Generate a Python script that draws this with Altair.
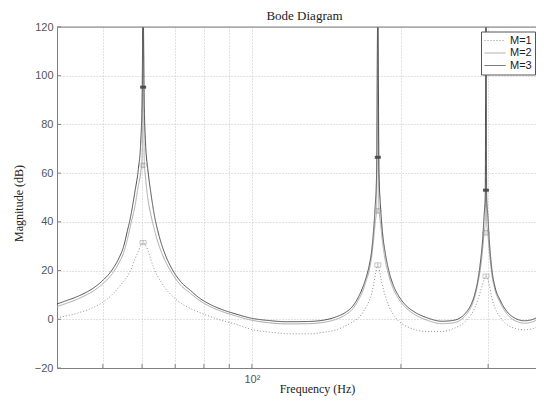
import altair as alt
import pandas as pd

# ---------------- data ----------------
SERIES = ["M=1", "M=2", "M=3"]

# shared frequency grid (Hz) for the two solid curves
F_SOLID = [40.4, 42, 44, 46, 48, 50, 52, 54, 55, 56, 57, 58, 59, 59.6, 60, 60.3, 60.6, 61, 61.6,
           62.5, 63.5, 65, 67, 69.5, 72, 75, 78, 82, 87, 92, 100, 108, 118, 130, 140, 148, 155,
           160, 164, 167, 170, 172.5, 174.5, 176, 177.5, 178.6, 179.6, 180.6, 181.8, 183.5, 186,
           189, 193, 198, 204, 213, 226, 242, 254, 263, 270, 277, 282.5, 286.5, 290, 292.5, 294.5,
           296, 297, 298, 299.5, 302, 305.5, 310, 317, 328, 341, 355, 370, 380, 389.5]

M3_DB = [6.3, 7.5, 9, 10.8, 13, 16, 19.8, 25.5, 29.5, 36, 43, 52, 62, 72, 90, 130, 90, 72, 62,
         52, 43, 34, 26, 19.5, 15.2, 12, 9, 6.3, 4, 2.4, 0.4, -0.5, -1, -0.9, -0.3, 1, 3,
         5.5, 9, 12.5, 17, 22, 28, 36, 47, 60, 130, 60, 47, 36, 27,
         20, 14, 9.5, 6, 3, 0.6, -0.8, -0.5, 0.5, 2.5, 6, 11, 17, 25, 33, 43,
         50, 130, 50, 43, 31, 20, 13, 8, 3, 0.3, -0.6, 0, 1.5, 3.5]

M2_DB = [5.2, 6.4, 7.9, 9.7, 11.8, 14.6, 18.2, 23.5, 27, 32.5, 39.5, 46, 55, 60, 66, 130, 66, 58, 50,
         43, 37, 30, 23.5, 17.8, 13.8, 10.8, 8, 5.4, 3.2, 1.6, -0.4, -1.4, -1.9, -1.8, -1.2, 0, 2,
         4.4, 7.8, 11, 15.5, 20, 25.5, 32, 40, 45, 130, 45, 40, 32, 24,
         18, 12.5, 8.3, 5, 2, -0.4, -1.8, -1.5, -0.5, 1.5, 5, 9.8, 15.5, 22, 29, 35.5,
         40, 130, 40, 35.5, 27, 18, 11.8, 7, 2, -0.7, -1.6, -1, 0.5, 2.5]

F_M1 = [40.4, 42, 44, 46, 48, 50, 52, 54, 55, 56, 57, 58, 59, 59.6, 60.3, 61, 61.6, 62.5, 63.5,
        65, 67, 69.5, 72, 75, 78, 82, 87, 92, 100, 108, 118, 130, 140, 148, 155, 160, 164, 167,
        170, 172.5, 174.5, 176, 177.5, 178.6, 179.6, 180.6, 181.8, 183.5, 186, 189, 193, 198,
        204, 213, 226, 242, 254, 263, 270, 277, 282.5, 286.5, 290, 292.5, 294.5, 297, 299.5,
        302, 305.5, 310, 317, 328, 341, 355, 370, 380, 389.5]
M1_DB = [0.6, 1.3, 2.3, 3.5, 5, 7, 9.8, 13.5, 15.5, 17.5, 20.5, 24.5, 28, 30.3, 31.5, 30.3, 28.5, 24.5, 20.5,
         16.5, 12.5, 9, 6.5, 4.5, 3, 1.3, -0.5, -1.8, -4.2, -5.2, -5.9, -6, -5.3, -4.3, -2.6, -1, 0.5, 2.5,
         5, 7.5, 10.5, 14, 18, 21, 22.3, 21, 18, 14, 9.5, 5.5, 2, -0.8,
         -2.6, -4.2, -5, -5, -4, -2.5, -0.8, 1.8, 5, 8.5, 12, 14.5, 16.5, 17.7, 16.5,
         13.5, 8.5, 4.5, 1, -2.3, -3.8, -4.3, -3.8, -2.7, -1.3]

# peak-response markers
PEAK_F = [60.3, 179.6, 297]
PEAK_M1 = [31.5, 22.3, 17.7]
PEAK_M2 = [63.2, 44.5, 35.5]
PEAK_M3 = [95.3, 66.5, 53]

X_GRID = [50, 60, 70, 80, 90, 100, 200, 300]
Y_TICKS = [-20, 0, 20, 40, 60, 80, 100, 120]
X_DOMAIN = [40.4, 374.8]

COLORS = ["#8f8f8f", "#a9a9a9", "#4f4f4f"]
DASHES = [[1, 2], [1, 0], [1, 0]]

# ---------------- tables ----------------
df = pd.concat([
    pd.DataFrame({"freq": F_M1, "db": M1_DB, "series": "M=1"}),
    pd.DataFrame({"freq": F_SOLID, "db": M2_DB, "series": "M=2"}),
    pd.DataFrame({"freq": F_SOLID, "db": M3_DB, "series": "M=3"}),
], ignore_index=True)

peaks1 = pd.DataFrame({"freq": PEAK_F, "db": PEAK_M1})
peaks2 = pd.DataFrame({"freq": PEAK_F, "db": PEAK_M2})
peaks3 = pd.DataFrame({"freq": PEAK_F, "db": PEAK_M3})
xt = pd.DataFrame({"freq": X_GRID})
yt = pd.DataFrame({"db": Y_TICKS})

W, H = 479, 341
AXIS_GREY = "#808080"

legend = alt.Legend(
    title=None, orient="none", legendX=424, legendY=4.5,
    symbolType="stroke", symbolSize=441, symbolStrokeWidth=1,
    clipHeight=12, rowPadding=0.5, padding=3, labelOffset=4,
    labelFont="Liberation Sans", labelFontSize=11, labelColor="#222",
    strokeColor="#555", fillColor="white", cornerRadius=0,
)

x_enc = alt.X(
    "freq:Q",
    scale=alt.Scale(type="log", domain=X_DOMAIN, nice=False),
    axis=alt.Axis(
        values=X_GRID, labelExpr="datum.value == 100 ? '10²' : ''",
        grid=True, gridDash=[1, 2], gridColor="#c4c4c4", ticks=False,
        domainColor=AXIS_GREY, labelFont="Liberation Sans", labelFontSize=11,
        labelColor="#555", labelPadding=5, labelOverlap=False, labelFlush=False,
        title="Frequency (Hz)", titleFont="Liberation Serif", titleFontSize=12,
        titleFontWeight="normal", titleColor="#222", titleX=260, titleY=24,
        titleAlign="center", titleBaseline="alphabetic",
    ),
)
y_enc = alt.Y(
    "db:Q",
    scale=alt.Scale(domain=[-20, 120], nice=False, zero=False),
    axis=alt.Axis(
        values=Y_TICKS, grid=True, gridDash=[1, 2], gridColor="#c4c4c4", ticks=False,
        domainColor=AXIS_GREY, labelFont="Liberation Sans", labelFontSize=11,
        labelColor="#555", labelPadding=4,
        title="Magnitude (dB)", titleFont="Liberation Serif", titleFontSize=12,
        titleFontWeight="normal", titleColor="#222", titleAngle=270,
        titleX=-39, titleY=176, titleAlign="center", titleBaseline="middle",
    ),
)

lines = alt.Chart(df).mark_line(clip=True, interpolate="monotone", strokeWidth=1).encode(
    x=x_enc,
    y=y_enc,
    color=alt.Color("series:N", scale=alt.Scale(domain=SERIES, range=COLORS), legend=legend),
    strokeDash=alt.StrokeDash("series:N", scale=alt.Scale(domain=SERIES, range=DASHES), legend=legend),
)

m1 = alt.Chart(peaks1).mark_point(
    shape="M-1,-0.7H1V0.7H-1Z M0,-0.7V0.7", size=36, filled=False, color="#999", strokeWidth=0.8
).encode(x="freq:Q", y="db:Q")
m2 = alt.Chart(peaks2).mark_point(
    shape="M-1,0A1,0.65 0 1,0 1,0A1,0.65 0 1,0 -1,0Z M0,-0.65V0.65", size=49, filled=False,
    color="#888", strokeWidth=0.8
).encode(x="freq:Q", y="db:Q")
m3 = alt.Chart(peaks3).mark_point(
    shape="M-1,-0.5H1V0.5H-1Z", size=36, filled=True, color="#444", opacity=0.9
).encode(x="freq:Q", y="db:Q")

xticks = alt.Chart(xt).mark_rule(color=AXIS_GREY).encode(
    x="freq:Q", y=alt.value(H), y2=alt.value(H - 4)
)
yticks = alt.Chart(yt).mark_rule(color=AXIS_GREY).encode(
    y="db:Q", x=alt.value(0), x2=alt.value(4)
)
top_border = alt.Chart(pd.DataFrame({"k": [0]})).mark_rule(color=AXIS_GREY).encode(
    x=alt.value(0), x2=alt.value(W), y=alt.value(0)
)

chart = alt.layer(lines, m1, m2, m3, xticks, yticks, top_border).properties(
    width=W, height=H,
    autosize=alt.AutoSizeParams(type="none"),
    padding={"left": 49, "top": 19, "right": 0, "bottom": 28},
    title=alt.TitleParams(
        "Bode Diagram", font="Liberation Serif", fontSize=13, fontWeight="normal",
        color="#222", anchor="middle", frame="group", offset=4, dx=8, dy=16,
        baseline="alphabetic",
    ),
).configure_view(stroke=None).configure(background="white")

chart.save("out.html", embed_options={"renderer": "svg", "actions": False})
